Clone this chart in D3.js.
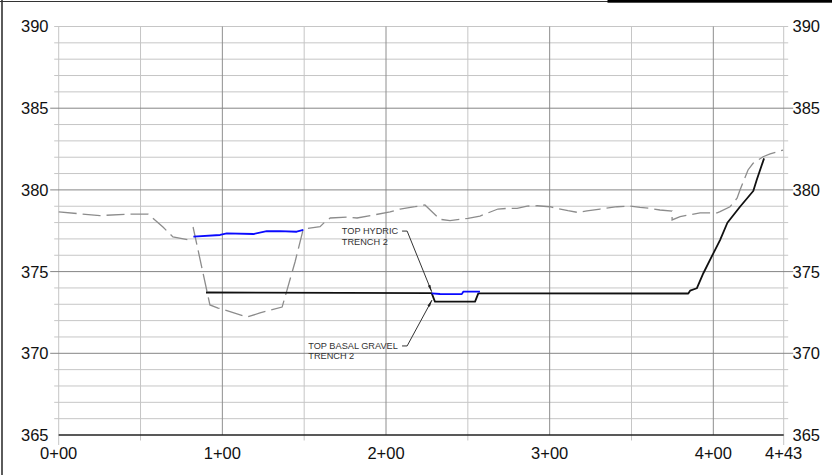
<!DOCTYPE html>
<html>
<head>
<meta charset="utf-8">
<script src="https://cdn.jsdelivr.net/npm/d3@7/dist/d3.min.js"></script>
<style>
  html, body { margin: 0; padding: 0; background: #fff; }
  svg { display: block; }
  text { font-family: "Liberation Sans", Arial, sans-serif; }
</style>
</head>
<body>
<svg id="chart" width="832" height="475"></svg>
<script>
// ---------- DATA (station in ft, elevation in ft) ----------
const stationTicks = [0, 100, 200, 300, 400, 443];
const stationLabels = ["0+00", "1+00", "2+00", "3+00", "4+00", "4+43"];
const elevTicks = [365, 370, 375, 380, 385, 390];
const minorStations = [50, 150, 250, 350];

// existing ground (dashed grey), left part
const groundLeft = [
  [0, 378.65], [25.2, 378.43], [43.6, 378.52], [54.6, 378.52],
  [63.7, 377.73], [69.8, 377.12], [80.2, 376.93]
];
// trench 1 outline (dashed grey)
const trench1 = [
  [82.1, 377.73], [92.4, 372.96], [97.4, 372.77], [104.7, 372.55],
  [115.1, 372.22], [123.0, 372.47], [136.5, 372.83], [139.5, 373.87],
  [144.4, 375.59], [149.3, 377.55]
];
// existing ground (dashed grey), right part
const groundRight = [
  [152.3, 377.65], [159.7, 377.75], [162.8, 378.05], [165.9, 378.28],
  [176.2, 378.34], [182.3, 378.28], [202.5, 378.65], [208.6, 378.83],
  [217.7, 378.97], [223.8, 379.08], [233.0, 378.20], [239.1, 378.12],
  [250.1, 378.26], [257.4, 378.40], [268.4, 378.83], [274.6, 378.87],
  [280.1, 378.87], [286.2, 379.01], [292.3, 379.03], [300.2, 378.97],
  [304.5, 378.87], [311.2, 378.73], [316.7, 378.63], [322.8, 378.71],
  [330.8, 378.83], [341.2, 378.97], [349.1, 379.01], [355.2, 378.93],
  [361.3, 378.87], [367.4, 378.77], [374.8, 378.71], [374.8, 378.16],
  [379.7, 378.36], [391.9, 378.60], [402.3, 378.60], [404.1, 378.67],
  [410.2, 378.97], [414.5, 379.49], [416.3, 379.99], [421.2, 381.22],
  [424.3, 381.63], [430.4, 382.03], [434.7, 382.20], [442.6, 382.44]
];
// top of basal gravel (black)
const basalGravel = [
  [90.0, 373.72], [227.9, 373.68], [229.9, 373.16], [254.4, 373.16],
  [256.4, 373.67], [384.7, 373.66], [385.8, 373.83], [389.9, 373.98],
  [393.9, 374.90], [400.0, 376.12], [404.1, 376.93], [408.6, 377.99],
  [416.3, 378.97], [424.4, 379.93], [426.5, 380.61], [431.0, 381.93]
];
// top of hydric, trench 1 (blue)
const hydric1 = [
  [82.3, 377.14], [98.6, 377.24], [102.7, 377.34], [118.9, 377.30],
  [127.1, 377.47], [135.2, 377.48], [145.4, 377.44], [149.5, 377.55]
];
// top of hydric, trench 2 (blue)
const hydric2 = [
  [227.9, 373.67], [233.0, 373.63], [246.3, 373.62], [247.2, 373.77],
  [257.4, 373.77]
];
// annotations: text anchor [station, elevation], leader polyline
const annotations = [
  { lines: ["TOP HYDRIC", "TRENCH 2"], at: [173.0, 377.28], dy: 10.7,
    leader: [[209.8, 377.48], [212.9, 377.48], [227.9, 373.77]] },
  { lines: ["TOP BASAL GRAVEL", "TRENCH 2"], at: [152.5, 370.26], dy: 10.3,
    leader: [[209.8, 370.45], [212.9, 370.45], [228.1, 373.26]] }
];

// ---------- SCALES ----------
const svg = d3.select("#chart");
const x = d3.scaleLinear().domain([0, 443]).range([58.7, 783.7]);
const y = d3.scaleLinear().domain([365, 390]).range([435, 26.5]);

// frame
svg.append("line").attr("x1", 2).attr("x2", 2).attr("y1", 0).attr("y2", 475)
  .attr("stroke", "#333").attr("stroke-width", 1.6);
svg.append("line").attr("x1", 0).attr("x2", 608).attr("y1", 1.5).attr("y2", 1.5)
  .attr("stroke", "#333").attr("stroke-width", 1);
svg.append("rect").attr("x", 607.5).attr("y", 0).attr("width", 225).attr("height", 2.7)
  .attr("fill", "#000");

const grid = svg.append("g");
// minor horizontal grid (every 1 ft)
const minorElev = d3.range(366, 391).filter(v => v % 5 !== 0 || v === 390);
grid.selectAll(".hmin").data(minorElev).join("line")
  .attr("x1", x(0) - 4.5).attr("x2", x(443) + 4.5)
  .attr("y1", d => y(d)).attr("y2", d => y(d))
  .attr("stroke", "#c6c6c6").attr("stroke-width", 1);
// minor vertical grid
grid.selectAll(".vmin").data(minorStations).join("line")
  .attr("x1", d => x(d)).attr("x2", d => x(d))
  .attr("y1", y(390)).attr("y2", y(365) + 5.5)
  .attr("stroke", "#c6c6c6").attr("stroke-width", 1);
// edge verticals
grid.selectAll(".vedge").data([0, 443]).join("line")
  .attr("x1", d => x(d)).attr("x2", d => x(d))
  .attr("y1", y(390)).attr("y2", y(365) + 10)
  .attr("stroke", "#c6c6c6").attr("stroke-width", 1);
// major verticals
grid.selectAll(".vmaj").data(stationTicks.filter(s => s > 0 && s < 443)).join("line")
  .attr("x1", d => x(d)).attr("x2", d => x(d))
  .attr("y1", y(390)).attr("y2", y(365))
  .attr("stroke", "#8e8e8e").attr("stroke-width", 1);
// major horizontals
grid.selectAll(".hmaj").data(elevTicks.filter(v => v > 365 && v < 390)).join("line")
  .attr("x1", x(0) - 8.5).attr("x2", x(443) + 9.5)
  .attr("y1", d => y(d)).attr("y2", d => y(d))
  .attr("stroke", "#858585").attr("stroke-width", 1);
// bottom axis line
grid.append("line").attr("x1", x(0)).attr("x2", x(443))
  .attr("y1", y(365)).attr("y2", y(365))
  .attr("stroke", "#222").attr("stroke-width", 1.3);

// axis labels
svg.append("g").selectAll("text").data(elevTicks).join("text")
  .attr("x", 48.5).attr("y", d => y(d)).attr("dy", "0.36em")
  .attr("text-anchor", "end").attr("font-size", 16.5).attr("fill", "#111")
  .text(d => d);
svg.append("g").selectAll("text").data(elevTicks).join("text")
  .attr("x", 792.5).attr("y", d => y(d)).attr("dy", "0.36em")
  .attr("text-anchor", "start").attr("font-size", 16.5).attr("fill", "#111")
  .text(d => d);
svg.append("g").selectAll("text").data(stationTicks).join("text")
  .attr("x", d => x(d)).attr("y", 458.5)
  .attr("text-anchor", "middle").attr("font-size", 16.5).attr("fill", "#111")
  .text((d, i) => stationLabels[i]);

// ---------- PROFILE LINES ----------
const line = d3.line().x(d => x(d[0])).y(d => y(d[1]));
const dashed = svg.append("g").attr("fill", "none").attr("stroke", "#8c8c8c")
  .attr("stroke-width", 1.3).attr("stroke-dasharray", "18,6");
[groundLeft, trench1, groundRight].forEach(p =>
  dashed.append("path").attr("d", line(p)));

svg.append("path").attr("d", line(basalGravel)).attr("fill", "none")
  .attr("stroke", "#111").attr("stroke-width", 1.8).attr("stroke-linejoin", "round");
[hydric1, hydric2].forEach(p =>
  svg.append("path").attr("d", line(p)).attr("fill", "none")
    .attr("stroke", "#0a0aff").attr("stroke-width", 1.8).attr("stroke-linejoin", "round"));

// ---------- ANNOTATIONS ----------
const defs = svg.append("defs");
defs.append("marker").attr("id", "arr").attr("viewBox", "0 0 10 4")
  .attr("refX", 10).attr("refY", 2).attr("markerWidth", 7).attr("markerHeight", 2.8)
  .attr("markerUnits", "userSpaceOnUse").attr("orient", "auto")
  .append("path").attr("d", "M0,0 L10,2 L0,4 Z").attr("fill", "#222");

annotations.forEach(a => {
  const g = svg.append("g");
  a.lines.forEach((t, i) => {
    g.append("text").attr("x", x(a.at[0])).attr("y", y(a.at[1]) + i * a.dy)
      .attr("font-size", 9.2).attr("fill", "#333").text(t);
  });
  g.append("path").attr("d", line(a.leader)).attr("fill", "none")
    .attr("stroke", "#333").attr("stroke-width", 1)
    .attr("marker-end", "url(#arr)");
});
</script>
</body>
</html>
